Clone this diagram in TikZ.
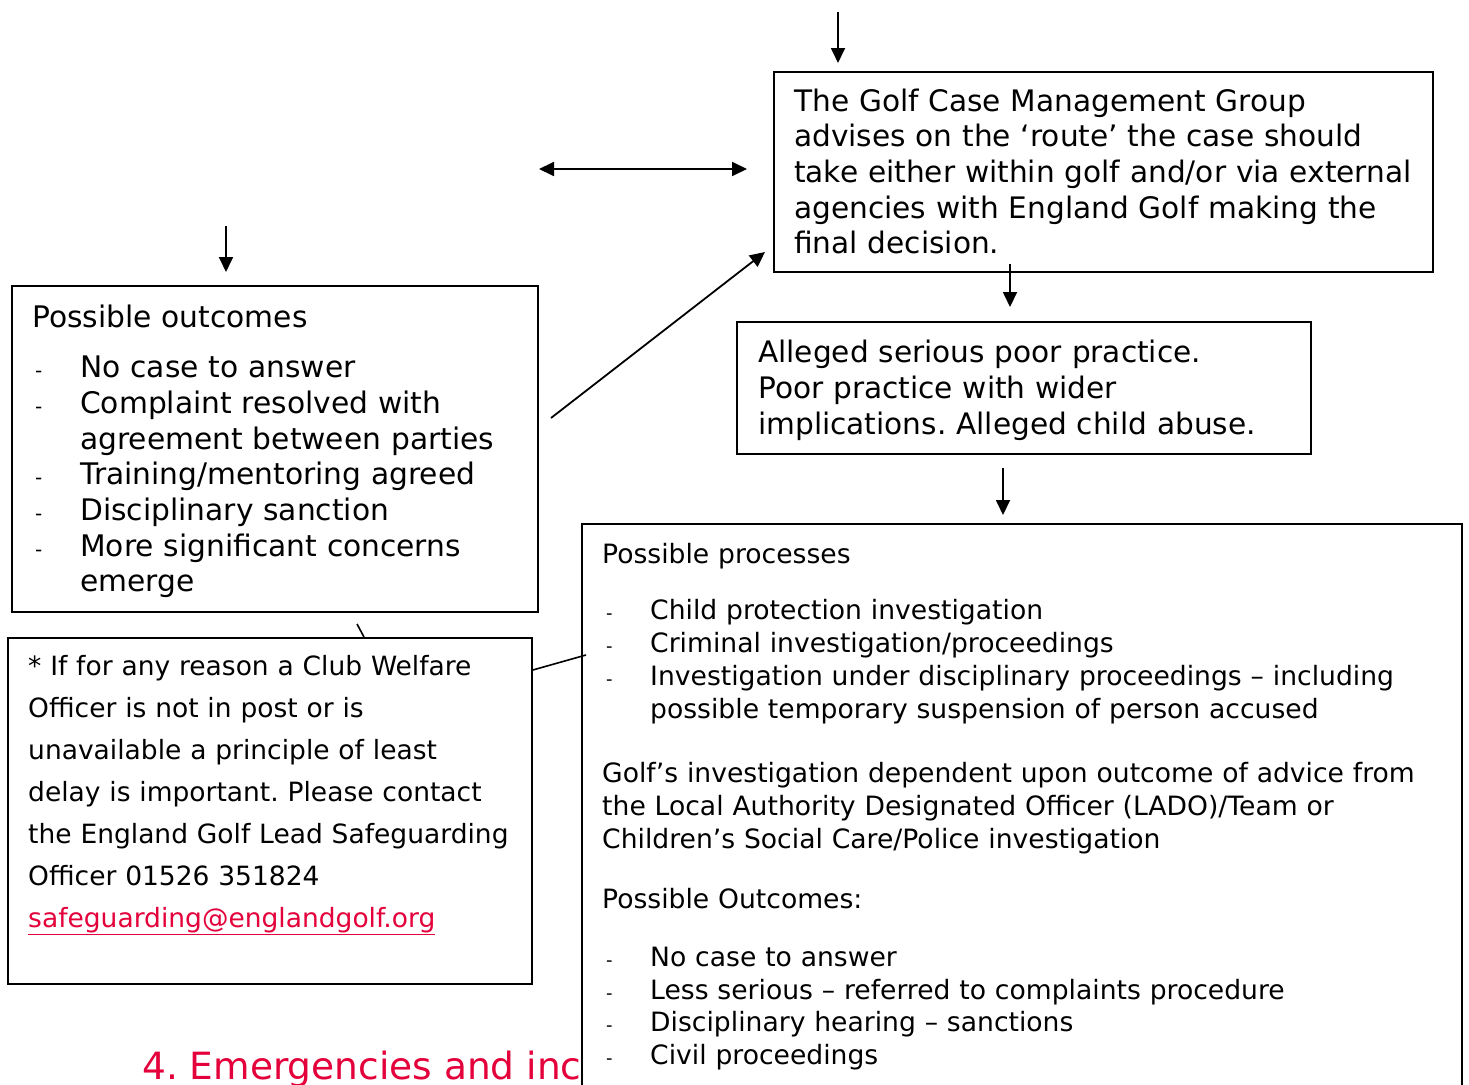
\documentclass[tikz,border=0pt]{standalone}
\usepackage{fontspec}
\setmainfont{DejaVu Sans}
\usetikzlibrary{arrows.meta}
\definecolor{engred}{RGB}{228,0,58}
\frenchspacing
\newcommand\dshA{\makebox[48pt][l]{\hspace{3pt}{\fontsize{20}{20}\selectfont -}}}
\newcommand\indA{\hspace*{48pt}}
\newcommand\dshB{\makebox[48pt][l]{\hspace{4pt}{\fontsize{18}{18}\selectfont -}}}
\newcommand\indB{\hspace*{48pt}}
\begin{document}
\begin{tikzpicture}[x=1pt,y=-1pt,
  box/.style={draw,line width=1.8pt,fill=white,inner sep=0pt,anchor=north west},
  txt/.style={anchor=base west,inner sep=0pt,align=left},
  arr/.style={line width=1.8pt,-{Triangle[length=15pt,width=14pt]}},
  darr/.style={line width=1.8pt,{Triangle[length=15pt,width=14pt]}-{Triangle[length=15pt,width=14pt]}},
  conn/.style={line width=1.6pt}]
\useasboundingbox[fill=white] (0,0) rectangle (1469,1084);

% heading (partly covered by the processes box)
\node[txt,text=engred,font=\fontsize{37.5}{40}\selectfont] (head) at (142,1079) {4. Emergencies and inc};

% boxes
\node[box,minimum width=659pt,minimum height=200pt] (golf) at (773,71) {};
\node[box,minimum width=574pt,minimum height=132pt] (alleg) at (736,321) {};
\node[box,minimum width=526pt,minimum height=326pt] (outc) at (11,285) {};
\node[box,minimum width=524pt,minimum height=346pt] (welf) at (7,637) {};
\node[box,minimum width=880pt,minimum height=600pt] (proc) at (581,523) {};

% texts
\node[txt,font=\fontsize{29.6}{35.7}\selectfont,text width=650pt] (golft) at (794,111) {The Golf Case Management Group\\
advises on the ‘route’ the case should\\
take either within golf and/or via external\\
agencies with England Golf making the\\
final decision.};

\node[txt,font=\fontsize{29.6}{36}\selectfont,text width=560pt] (allegt) at (758,362) {Alleged serious poor practice.\\
Poor practice with wider\\
implications. Alleged child abuse.};

\node[txt,font=\fontsize{29.7}{35.7}\selectfont,text width=500pt] (outct) at (32,327) {Possible outcomes\\[15pt]
\dshA No case to answer\\
\dshA Complaint resolved with\\
\indA agreement between parties\\
\dshA Training/mentoring agreed\\
\dshA Disciplinary sanction\\
\dshA More significant concerns\\
\indA emerge};

\node[txt,font=\fontsize{26.5}{42}\selectfont,text width=500pt] (welft) at (28,675) {* If for any reason a Club Welfare\\
Officer is not in post or is\\
unavailable a principle of least\\
delay is important. Please contact\\
the England Golf Lead Safeguarding\\
Officer 01526 351824\\
{\color{engred}\underline{safeguarding@englandgolf.org}}};

\node[txt,font=\fontsize{26.6}{32.9}\selectfont,text width=850pt] (proct) at (602,563) {Possible processes\\[24pt]
\dshB Child protection investigation\\
\dshB Criminal investigation/proceedings\\
\dshB Investigation under disciplinary proceedings – including\\
\indB possible temporary suspension of person accused\\[31pt]
Golf’s investigation dependent upon outcome of advice from\\
the Local Authority Designated Officer (LADO)/Team or\\
Children’s Social Care/Police investigation\\[27pt]
Possible Outcomes:\\[25pt]
\dshB No case to answer\\
\dshB Less serious – referred to complaints procedure\\
\dshB Disciplinary hearing – sanctions\\
\dshB Civil proceedings};

% connector end points
\coordinate (topS) at (838,12);
\coordinate (topE) at (838,63);
\coordinate (dblL) at (539,169);
\coordinate (dblR) at (747,169);
\coordinate (leftS) at (226,226);
\coordinate (leftE) at (226,272);
\coordinate (diagS) at (551,418);
\coordinate (diagE) at (765,252);
\coordinate (g2aS) at (1010,264);
\coordinate (g2aE) at (1010,307);
\coordinate (a2pS) at (1003,468);
\coordinate (a2pE) at (1003,515);
\coordinate (tickS) at (357,624);
\coordinate (linkE) at (586,655);

\draw[arr] (topS) -- (topE);
\draw[darr] (dblL) -- (dblR);
\draw[arr] (leftS) -- (leftE);
\draw[arr] (diagS) -- (diagE);
\draw[arr] (g2aS) -- (g2aE);
\draw[arr] (a2pS) -- (a2pE);
\draw[conn] (tickS) -- (welf.north -| 364,0);
\draw[conn] (welf.east |- 0,670) -- (linkE);
\end{tikzpicture}
\end{document}
